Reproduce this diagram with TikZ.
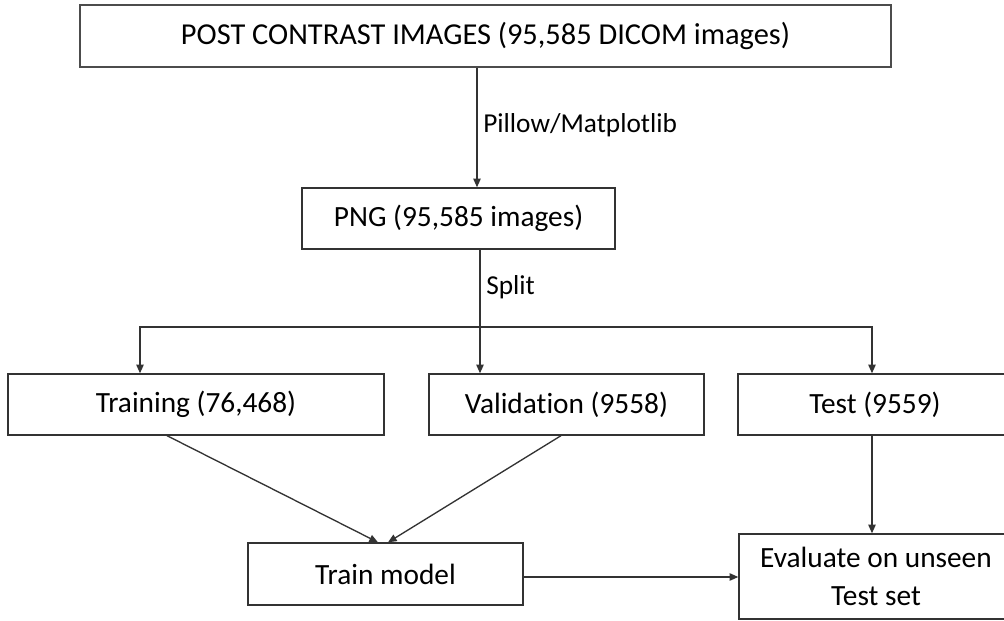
\documentclass[tikz,border=0pt]{standalone}
\usepackage{fontspec}
\setmainfont[Ligatures={NoCommon}]{Carlito}
\usetikzlibrary{arrows.meta,calc}
\begin{document}
\begin{tikzpicture}[x=0.75pt,y=-0.75pt,
  box/.style={draw=black!80,line width=1pt,fill=white,inner sep=0pt,font=\fontsize{22}{27}\selectfont},
  conn/.style={draw=black!80,line width=1pt},
  arr/.style={conn,-{Triangle[length=6.5pt,width=5.5pt]}},
  lbl/.style={font=\fontsize{20.5}{24}\selectfont,inner sep=0pt}]
\useasboundingbox (0,0) rectangle (1004,621);
\clip (0,0) rectangle (1004,621);
\node[box,draw=black!70,line width=1.6pt,minimum width=811*0.75pt,minimum height=62*0.75pt,font=\fontsize{22.8}{27}\selectfont] (top) at (485.5,36) {POST CONTRAST IMAGES (95,585 DICOM images)};
\node[box,minimum width=313*0.75pt,minimum height=61*0.75pt] (png) at (458.5,218.5) {PNG (95,585 images)};
\node[box,minimum width=376*0.75pt,minimum height=61*0.75pt] (train) at (196,404.5) {Training (76,468)};
\node[box,minimum width=275*0.75pt,minimum height=61*0.75pt] (val) at (566.5,404.5) {Validation (9558)};
\node[box,minimum width=274*0.75pt,minimum height=61*0.75pt] (test) at (875,404.5) {Test (9559)};
\node[box,minimum width=275*0.75pt,minimum height=62*0.75pt] (tm) at (385.5,574) {Train model};
\node[box,align=center,minimum width=274*0.75pt,minimum height=85*0.75pt,font=\fontsize{22}{29}\selectfont] (ev) at (876,576.5) {Evaluate on unseen\\Test set};

\draw[arr] ($(top.south)+(-8.5,0)$) -- ($(png.north)+(18.5,0)$);
\node[lbl,anchor=west] (l1) at (483,125) {Pillow/Matplotlib};

\coordinate (sp) at (480,327);
\draw[conn] ($(png.south)+(21.5,0)$) -- (sp);
\node[lbl,anchor=west] (l2) at (486,287) {Split};
\draw[arr] (sp) -| ($(train.north)+(-56,0)$);
\draw[arr] (sp) -| ($(test.north)+(-3,0)$);
\draw[arr] (sp) -- ($(val.north)+(-86.5,0)$);

\draw[arr] ($(train.south)+(-29,0)$) -- ($(tm.north)+(-7.5,0)$);
\draw[arr] ($(val.south)+(-5.5,0)$) -- ($(tm.north)+(2.5,0)$);
\draw[arr] ($(test.south)+(-3,0)$) -- ($(ev.north)+(-4,0)$);
\draw[arr] ($(tm.east)+(0,3)$) -- ($(ev.west)+(0,0.5)$);
\end{tikzpicture}
\end{document}
